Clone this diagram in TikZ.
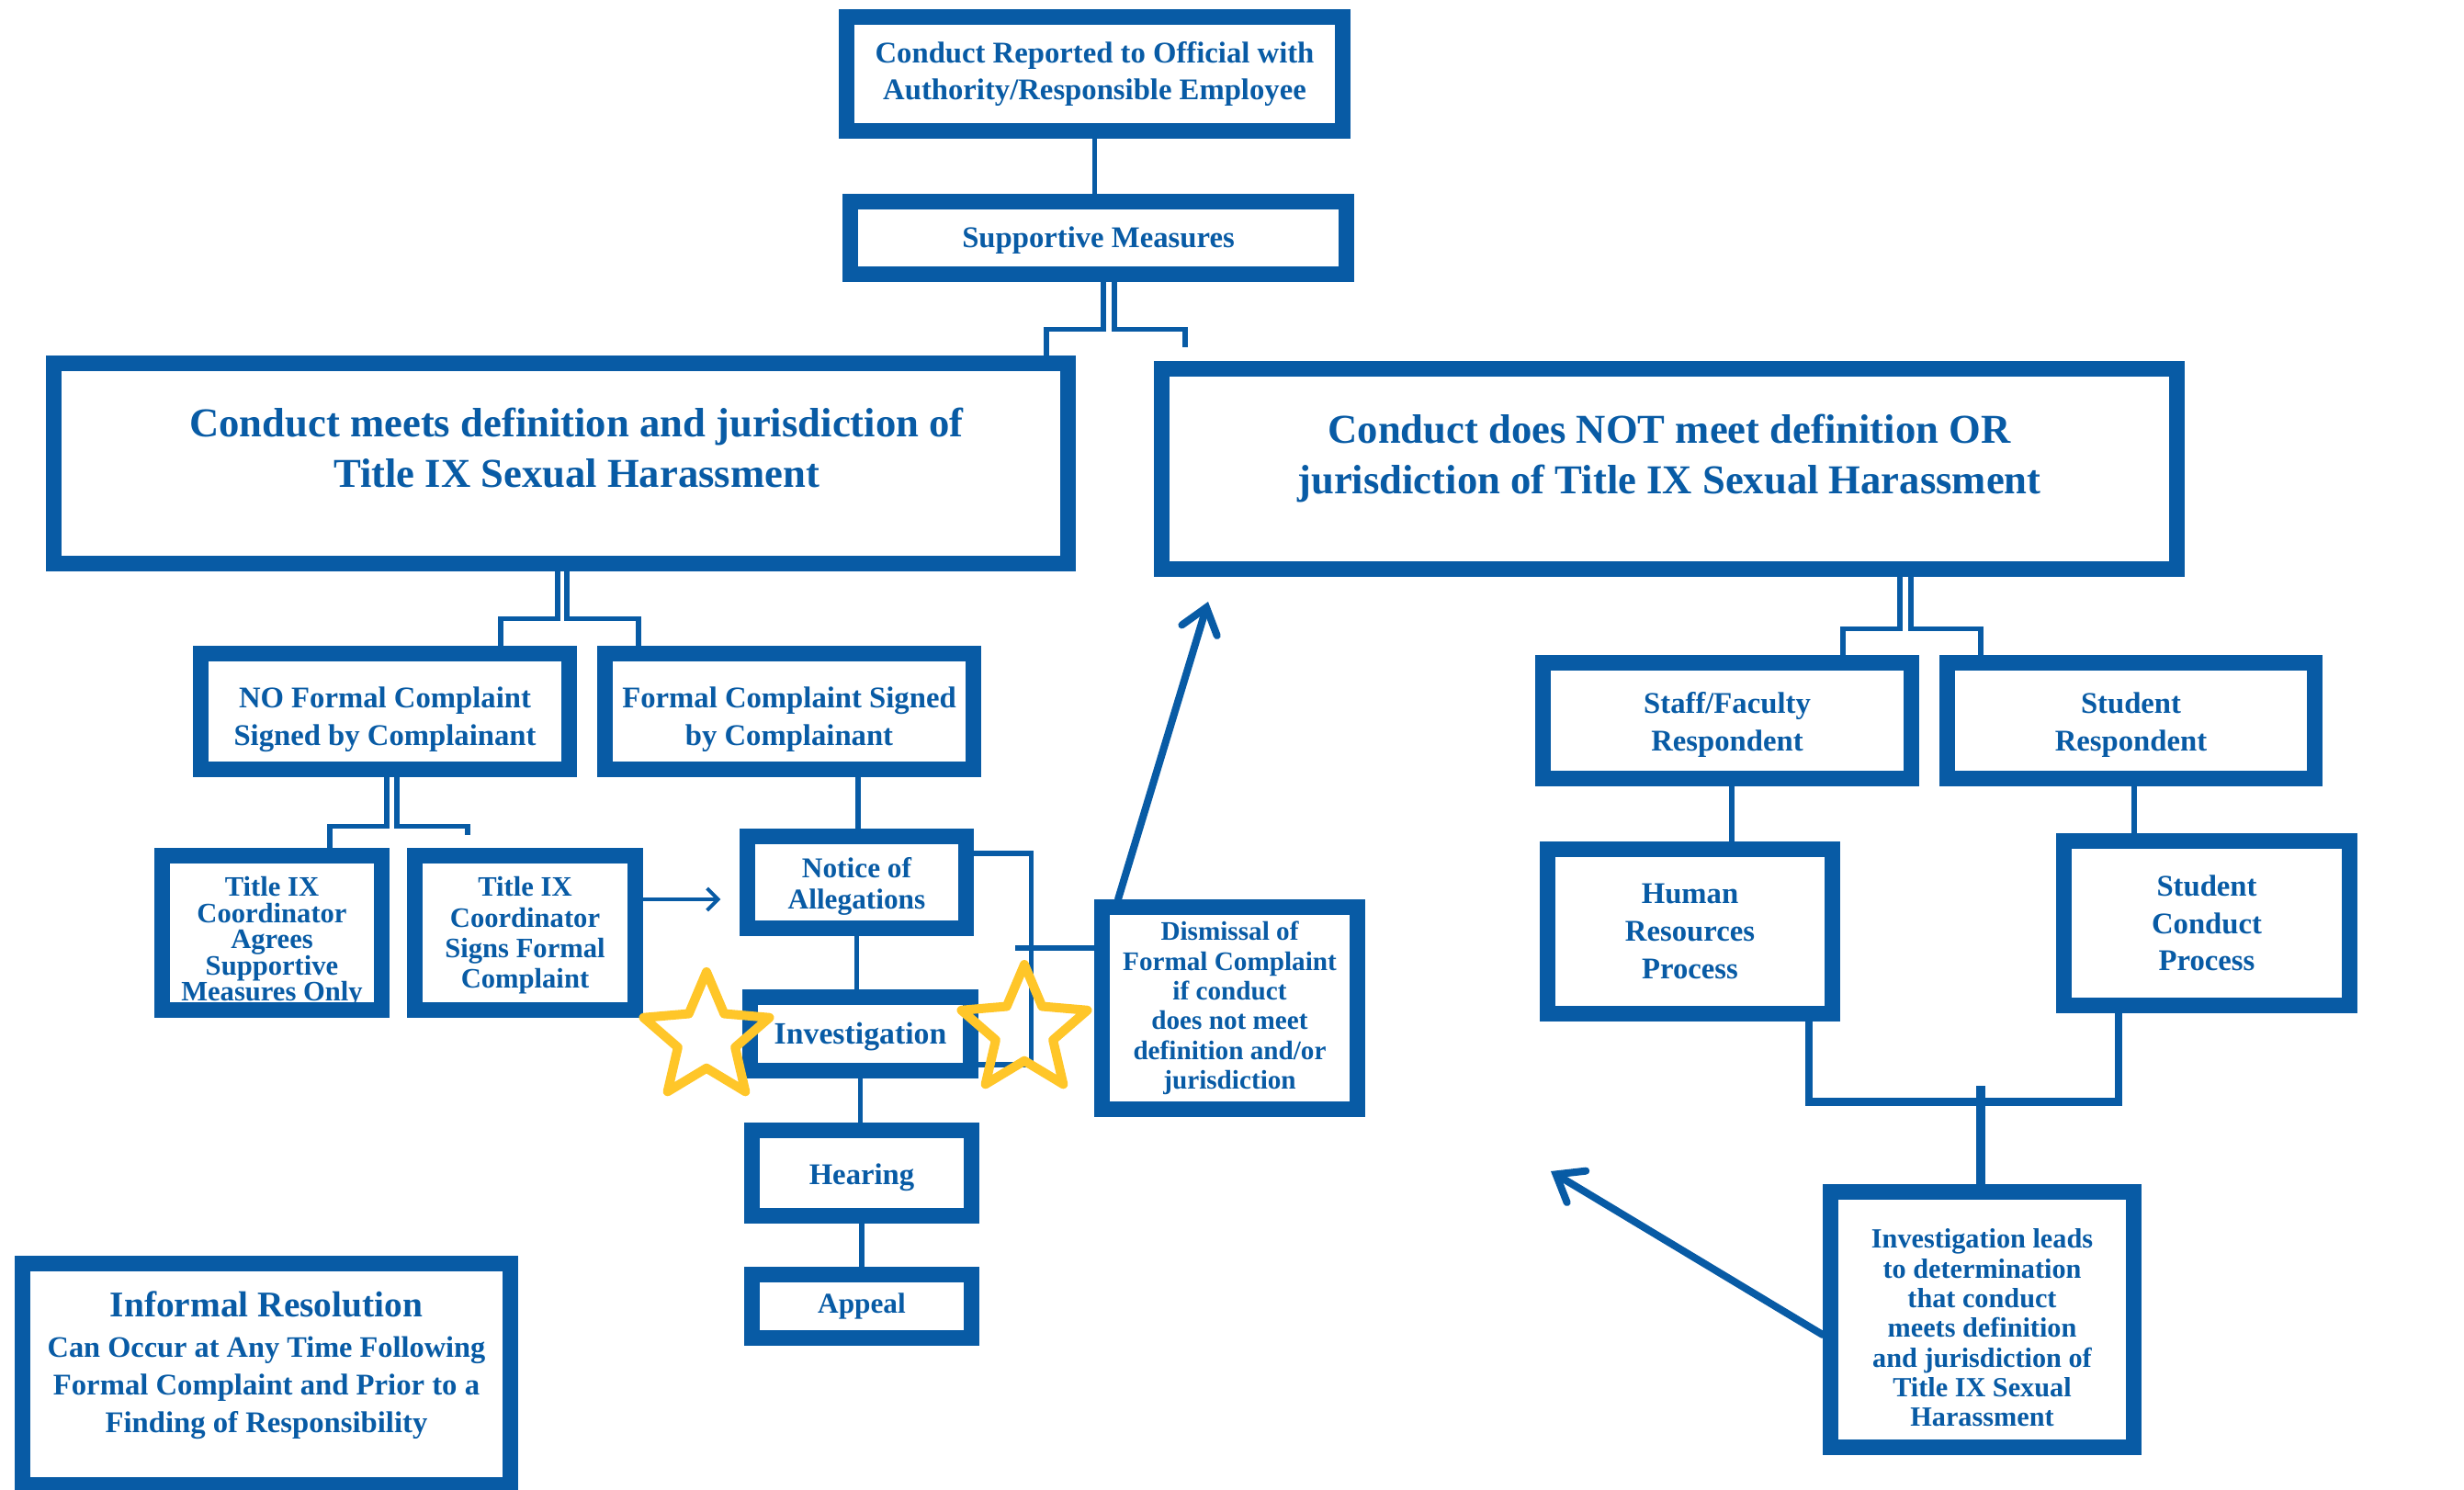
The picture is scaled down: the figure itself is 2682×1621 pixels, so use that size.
\documentclass[tikz,border=0pt]{standalone}
\usepackage{fontspec}
\setmainfont{Liberation Serif}
\usepackage{tikz}
\usetikzlibrary{shapes.geometric, arrows.meta, calc}
\definecolor{tblue}{RGB}{8,91,165}
\definecolor{tgold}{RGB}{255,198,41}
\tikzstyle{box} = [rectangle, draw=tblue, line width=0.17cm, fill=white, text=tblue, align=center, inner sep=1pt, font=\bfseries\fontsize{9.3}{11.6}\selectfont]
\tikzstyle{bigbox} = [box, font=\bfseries\fontsize{12.7}{15.6}\selectfont]
\tikzstyle{smallbox} = [box, font=\bfseries\fontsize{8.6}{9.2}\selectfont]
\tikzstyle{conn} = [draw=tblue, line width=0.055cm]
\tikzstyle{thickline} = [draw=tblue, line width=0.085cm]
\tikzstyle{arrow} = [draw=tblue, line width=0.08cm, line cap=round, -{Straight Barb[length=0.26cm, width=0.4cm, line cap=round]}]
\tikzstyle{smallarrow} = [draw=tblue, line width=0.04cm, -{Straight Barb[length=0.12cm, width=0.24cm]}]
\tikzstyle{goldstar} = [star, star points=5, star point ratio=2.2, draw=tgold, line width=0.1cm, line join=round, minimum size=1.44cm, inner sep=0pt]
% move the text of a box up (last line deeper) or down (first line taller)
\tikzset{textup/.style={execute at end node={\rule[-#1]{0pt}{0pt}}}}
\newcommand{\pushdown}[1]{\rule{0pt}{#1}}

\begin{document}
\begin{tikzpicture}[x=0.01cm, y=-0.01cm]
\clip (0,0) rectangle (2682,1621);
% top of the chart
\node (report) [box, minimum width=5.40cm, minimum height=1.24cm] at (1191.5,80.5) {Conduct Reported to Official with\\Authority/Responsible Employee};
\node (supp) [box, minimum width=5.40cm, minimum height=0.79cm] at (1195.5,259) {\pushdown{0.28cm}Supportive Measures};
\node (meets) [bigbox, textup=0.34cm, minimum width=11.04cm, minimum height=2.18cm] at (610.5,504.5) {\hspace*{0.34cm}Conduct meets definition and jurisdiction of\\\hspace*{0.34cm}Title IX Sexual Harassment};
\node (notmeet) [bigbox, textup=0.33cm, minimum width=11.05cm, minimum height=2.18cm] at (1817,510.5) {Conduct does NOT meet definition OR\\jurisdiction of Title IX Sexual Harassment};
% left branch
\node (noformal) [box, minimum width=4.01cm, minimum height=1.26cm] at (419,774.5) {\pushdown{0.4cm}NO Formal Complaint\\Signed by Complainant};
\node (formal) [box, minimum width=4.01cm, minimum height=1.26cm] at (859,774.5) {\pushdown{0.4cm}Formal Complaint Signed\\by Complainant};
\node (agrees) [box, inner ysep=0pt, font=\bfseries\fontsize{8.7}{8.1}\selectfont, minimum width=2.39cm, minimum height=1.68cm] at (296,1015.5) {\pushdown{0.41cm}Title IX\\Coordinator\\Agrees\\Supportive\\Measures Only};
\node (signs) [box, font=\bfseries\fontsize{8.7}{9.5}\selectfont, minimum width=2.40cm, minimum height=1.68cm] at (571.5,1015.5) {\pushdown{0.27cm}Title IX\\Coordinator\\Signs Formal\\Complaint};
\node (notice) [box, font=\bfseries\fontsize{8.9}{9.6}\selectfont, minimum width=2.38cm, minimum height=1.00cm] at (932.5,960.5) {\pushdown{0.31cm}Notice of\\Allegations};
\node (invest) [box, font=\bfseries\fontsize{9.6}{11.6}\selectfont, minimum width=2.40cm, minimum height=0.80cm] at (936.5,1125.5) {\pushdown{0.29cm}Investigation};
\node (hearing) [box, minimum width=2.39cm, minimum height=0.93cm] at (938,1277) {\pushdown{0.32cm}Hearing};
\node (appeal) [box, font=\bfseries\fontsize{8.9}{11}\selectfont, minimum width=2.39cm, minimum height=0.69cm] at (938,1422) {Appeal};
\node (dismiss) [smallbox, font=\bfseries\fontsize{8.3}{9.2}\selectfont, minimum width=2.78cm, minimum height=2.20cm] at (1338.5,1097.5) {Dismissal of\\Formal Complaint\\if conduct\\does not meet\\definition and/or\\jurisdiction};
% right branch
\node (staff) [box, minimum width=4.01cm, minimum height=1.26cm] at (1880,784.5) {\pushdown{0.32cm}Staff/Faculty\\Respondent};
\node (student) [box, minimum width=4.00cm, minimum height=1.26cm] at (2319.5,784.5) {\pushdown{0.32cm}Student\\Respondent};
\node (hr) [box, minimum width=3.10cm, minimum height=1.79cm] at (1839.5,1014) {Human\\Resources\\Process};
\node (scp) [box, minimum width=3.11cm, minimum height=1.79cm] at (2402,1005) {Student\\Conduct\\Process};
\node (leads) [smallbox, minimum width=3.30cm, minimum height=2.78cm] at (2157.5,1436.5) {\pushdown{0.39cm}Investigation leads\\to determination\\that conduct\\meets definition\\and jurisdiction of\\Title IX Sexual\\Harassment};
% informal resolution
\node (informal) [box, textup=0.27cm, minimum width=5.31cm, minimum height=2.41cm] at (290,1496) {\fontsize{11.2}{13}\selectfont Informal Resolution\\[1pt]\fontsize{9.2}{11.8}\selectfont Can Occur at Any Time Following\\Formal Complaint and Prior to a\\Finding of Responsibility};

% connectors
\draw [conn] (report.south) -- (report.south |- supp.north);
\draw [conn] ($(supp.south)+(5.5,0)$) -- ++(0,51.5) -| ($(meets.north)+(528.5,0)$);
\draw [conn] ($(supp.south)+(17.5,0)$) -- ++(0,51.5) -| ($(notmeet.north)+(-527,-14.5)$);
\draw [conn] ($(meets.south)+(-3.5,0)$) -- ++(0,51.5) -| ($(noformal.north)+(126,0)$);
\draw [conn] ($(meets.south)+(6.5,0)$) -- ++(0,51.5) -| ($(formal.north)+(-164,0)$);
\draw [conn] ($(noformal.south)+(2,0)$) -- ++(0,53.5) -| ($(agrees.north)+(63,0)$);
\draw [conn] ($(noformal.south)+(13,0)$) -- ++(0,53.5) -| ($(signs.north)+(-62.5,-13.5)$);
\draw [conn] ($(formal.south)+(75,0)$) -- ($(notice.north)+(1.5,0)$);
\draw [smallarrow] ($(signs.east)+(0,-36.5)$) -- ($(notice.west)+(-20.5,18.5)$);
\draw [conn] (notice.south) -- (notice.south |- invest.north);
\draw [conn] (invest.south) -- (invest.south |- hearing.north);
\draw [conn] (hearing.south) -- (hearing.south |- appeal.north);
\draw [conn] ($(notice.east)+(0,-31.5)$) -| ($(invest.east)+(57.5,33.5)$) -- ($(invest.east)+(0,33.5)$);
\draw [conn] ($(dismiss.west)+(-85.5,-65.5)$) -- ($(dismiss.west)+(0,-65.5)$);
\coordinate (dtip) at (1315,655);
\draw [arrow] ($(dismiss.north)+(-121.5,0)$) -- (dtip);

\draw [conn] ($(notmeet.south)+(251,0)$) -- ++(0,56.5) -| ($(staff.north)+(126,0)$);
\draw [conn] ($(notmeet.south)+(263,0)$) -- ++(0,56.5) -| ($(student.north)+(-163.5,0)$);
\draw [conn] ($(staff.south)+(5,0)$) -- ($(hr.north)+(45.5,0)$);
\draw [conn] ($(student.south)+(3.5,0)$) -- ($(scp.north)+(-79,0)$);
\draw [thickline] ($(hr.south)+(129.5,0)$) |- ($(scp.south)+(-96,96.5)$) -- ($(scp.south)+(-96,0)$);
\draw [thickline, line width=0.1cm] ($(leads.north)+(-1.5,-106.5)$) -- ($(leads.north)+(-1.5,0)$);
\coordinate (ltip) at (1688,1275);
\draw [arrow] ($(leads.west)+(0,16.5)$) -- (ltip);

% stars
\node (lstar) [goldstar] at (769,1130) {};
\node (rstar) [goldstar] at (1115,1122) {};
\end{tikzpicture}
\end{document}
